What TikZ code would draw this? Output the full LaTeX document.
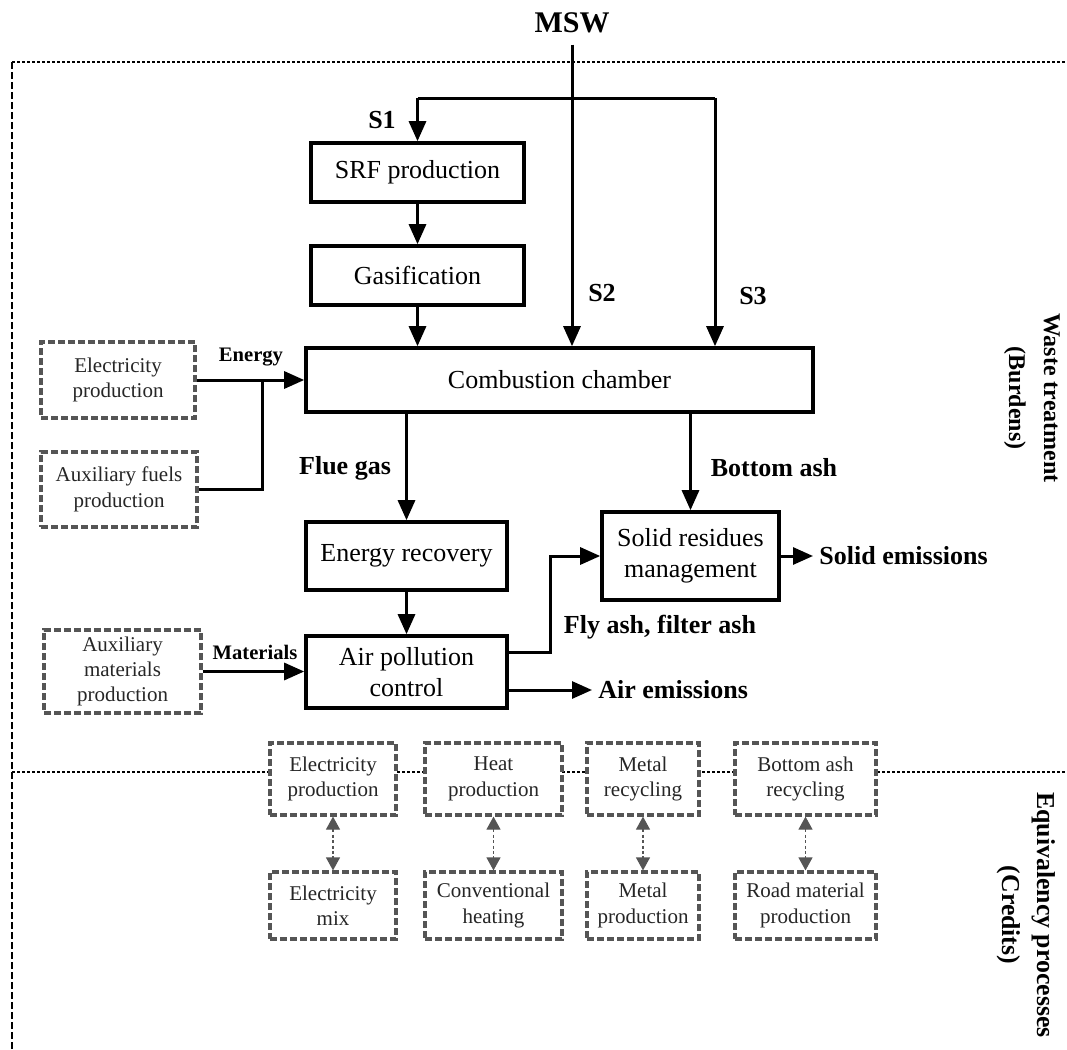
\documentclass[tikz,border=0pt]{standalone}
\usepackage{fontspec}
\setmainfont{Liberation Serif}
\usetikzlibrary{arrows.meta}
\definecolor{dgray}{HTML}{555555}
\begin{document}
\begin{tikzpicture}[x=0.5pt,y=-0.5pt,
  box/.style={draw, line width=1.8pt, align=center, inner sep=0pt, fill=white,
    font=\fontsize{13}{15.5}\selectfont},
  dbox/.style={draw=dgray, dash pattern=on 3.5pt off 1.5pt, line width=1.6pt, fill=white,
    align=center, inner sep=0pt, text=black!85, font=\fontsize{10.5}{12.7}\selectfont},
  lbl/.style={font=\bfseries\fontsize{13}{15}\selectfont, inner sep=3pt},
  slbl/.style={font=\bfseries\fontsize{10.3}{12}\selectfont, inner sep=1pt},
  side/.style={font=\bfseries\fontsize{12}{17.5}\selectfont, align=center},
  conn/.style={line width=1.5pt},
  arr/.style={line width=1.5pt, -{Triangle[length=10pt,width=8.5pt]}},
  darr/.style={draw=dgray, line width=0.6pt, dash pattern=on 1.5pt off 1.2pt,
    {Triangle[length=6.5pt,width=7pt]}-{Triangle[length=6.5pt,width=7pt]}},
  bound/.style={line width=1.2pt, dash pattern=on 1.5pt off 1pt},
  vbound/.style={line width=0.8pt, dash pattern=on 3.5pt off 1.5pt}
]
\useasboundingbox (0,0) rectangle (1067,1050);
% boundaries
\draw[bound] (12,62) -- (1067,62);
\draw[vbound] (12,62) -- (12,1050);
\draw[bound] (12,772) -- (1067,772);

% main process boxes
\node[font=\bfseries\fontsize{15}{18}\selectfont, inner sep=5.5pt] (msw) at (572,23) {MSW};
\coordinate (b1) at (417.5,98);
\coordinate (b3) at (715,98);
\node[box, minimum width=106.5pt, minimum height=29.5pt] (srf) at (417.5,172.5) {SRF production};
\node[box, minimum width=106.5pt, minimum height=29.5pt] (gas) at (417.5,275.5) {Gasification};
\node[box, minimum width=253.5pt, minimum height=32pt] (comb) at (559.5,380) {Combustion chamber};
\node[box, minimum width=100.5pt, minimum height=34pt] (er) at (406.5,556) {Energy recovery};
\node[box, minimum width=88.5pt, minimum height=44pt] (srm) at (690.5,556) {Solid residues\\management};
\node[box, minimum width=100.5pt, minimum height=36pt] (apc) at (406.5,672) {Air pollution\\control};

% auxiliary dashed boxes
\node[dbox, minimum width=77pt, minimum height=38pt] (ep) at (118,380) {Electricity\\production};
\node[dbox, minimum width=78pt, minimum height=37.5pt] (af) at (119,489.5) {Auxiliary fuels\\production};
\node[dbox, minimum width=78.5pt, minimum height=41.5pt] (am) at (122.5,671.5) {Auxiliary\\materials\\production};

% credit boxes
\node[dbox, minimum width=63pt, minimum height=36pt] (c1) at (333,779) {Electricity\\production};
\node[dbox, minimum width=68.5pt, minimum height=36pt] (c2) at (493.5,779) {Heat\\production};
\node[dbox, minimum width=56pt, minimum height=36pt] (c3) at (643,779) {Metal\\recycling};
\node[dbox, minimum width=70.5pt, minimum height=36pt] (c4) at (805.5,779) {Bottom ash\\recycling};
\node[dbox, minimum width=63pt, minimum height=33.5pt] (d1) at (333,905.5) {Electricity\\mix};
\node[dbox, minimum width=68.5pt, minimum height=33.5pt] (d2) at (493.5,905.5) {Conventional\\heating};
\node[dbox, minimum width=56pt, minimum height=33.5pt] (d3) at (643,905.5) {Metal\\production};
\node[dbox, minimum width=70.5pt, minimum height=33.5pt] (d4) at (805.5,905.5) {Road material\\production};

% labels
\node[lbl] (s1) at (382,120) {S1};
\node[lbl] (s2) at (602,293) {S2};
\node[lbl] (s3) at (753,296) {S3};
\node[slbl] (en) at (251,357) {Energy};
\node[slbl] (ma) at (255,652) {Materials};
\node[lbl] (fg) at (345,468) {Flue gas};
\node[lbl] (ba) at (774,468) {Bottom ash};
\node[lbl] (fl) at (660,627) {Fly ash, filter ash};
\node[lbl, anchor=west] (semis) at (813,556) {Solid emissions};
\node[lbl, anchor=west] (aemis) at (592,690) {Air emissions};
\node[side, rotate=-90] (wt) at (1032,398) {Waste treatment\\(Burdens)};
\node[side, rotate=-90, font=\bfseries\fontsize{12.9}{17.5}\selectfont] (eq) at (1026,915) {Equivalency processes\\(Credits)};

% connectors
\draw[arr] (msw.south) -- (msw.south |- comb.north);
\draw[conn] (b1) -- (b3);
\draw[arr] (b1) -- (srf.north);
\draw[arr] (b3) -- (b3 |- comb.north);
\draw[arr] (srf) -- (gas);
\draw[arr] (gas.south) -- (gas.south |- comb.north);
\draw[arr] (ep.east) -- (comb.west);
\coordinate (j) at (262,380);
\draw[conn] (af.east) -| (j);
\draw[arr] (er.north |- comb.south) -- (er.north);
\draw[arr] (srm.north |- comb.south) -- (srm.north);
\draw[arr] (er) -- (apc);
\coordinate (fa) at (550,652);
\draw[arr] (apc.east |- fa) -- (fa) |- (srm.west);
\draw[arr] (srm.east) -- (semis.west);
\draw[arr] (apc.east |- aemis.west) -- (aemis.west);
\draw[arr] (am.east) -- (am.east -| apc.west);

\draw[darr] (c1) -- (d1);
\draw[darr] (c2) -- (d2);
\draw[darr] (c3) -- (d3);
\draw[darr] (c4) -- (d4);
\end{tikzpicture}
\end{document}
